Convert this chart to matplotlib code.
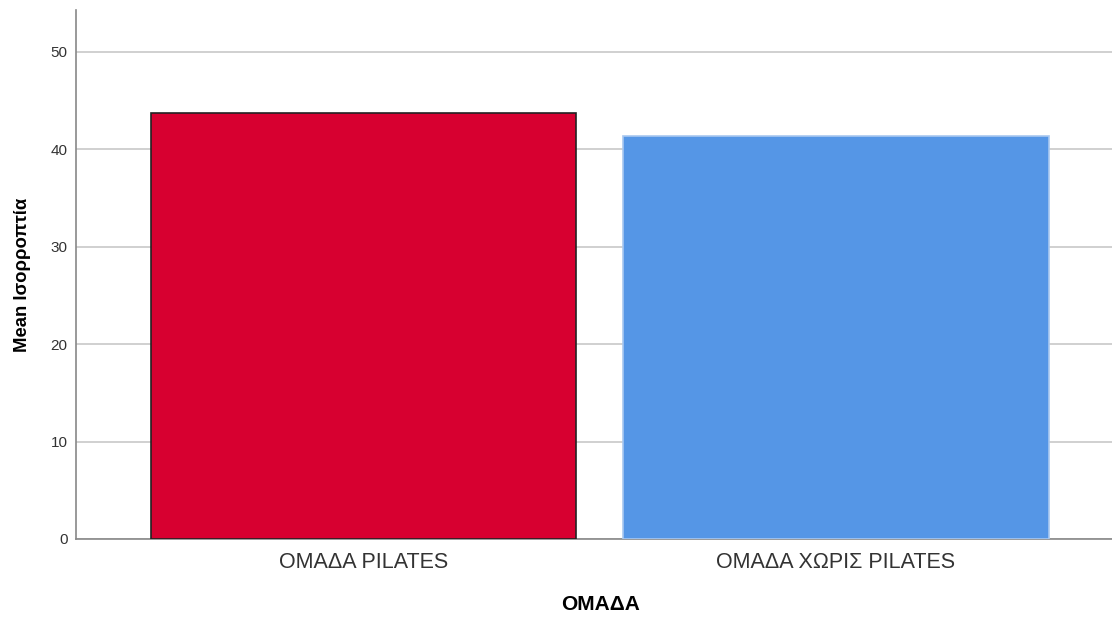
import matplotlib
matplotlib.use("Agg")
import matplotlib.pyplot as plt

categories = ["ΟΜΑΔΑ PILATES", "ΟΜΑΔΑ ΧΩΡΙΣ PILATES"]
means = [43.7, 41.4]
colors = ["#D70030", "#5596E6"]
edges = ["#222222", "#A9C8F0"]
yticks = [0, 10, 20, 30, 40, 50]

plt.rcParams['font.family'] = ['Liberation Sans', 'DejaVu Sans']

fig = plt.figure(figsize=(11.12, 6.19), dpi=100)
ax = fig.add_axes([76/1112, 80/619, 1 - 76/1112, 529/619])

x = list(range(len(categories)))
for xi, m, c, e in zip(x, means, colors, edges):
    ax.bar(xi, m, width=0.9, color=c, edgecolor=e, linewidth=1.2, zorder=3)

ax.set_xlim(-0.6085, 1.584)
ax.set_ylim(0, 54.3)
ax.set_yticks(yticks)
ax.set_xticks(x)
ax.set_xticklabels(categories, fontsize=15.5, color="#333333")
ax.tick_params(axis='y', labelsize=11, length=0, pad=6, colors="#333333")
ax.tick_params(axis='x', length=0, pad=9)
ax.yaxis.grid(True, color="#C8C8C8", linewidth=1.2, zorder=0)
ax.set_axisbelow(True)
for s in ["top", "right"]:
    ax.spines[s].set_visible(False)
for s in ["left", "bottom"]:
    ax.spines[s].set_color("#888888")
    ax.spines[s].set_linewidth(1.2)

ax.set_ylabel("Mean Ισορροπτία", fontsize=13.3, fontweight="bold", labelpad=14)
ax.set_xlabel("ΟΜΑΔΑ", fontsize=15, fontweight="bold", labelpad=16)
ax.xaxis.label.set_x(0.506)

fig.savefig("out.png", dpi=100)
